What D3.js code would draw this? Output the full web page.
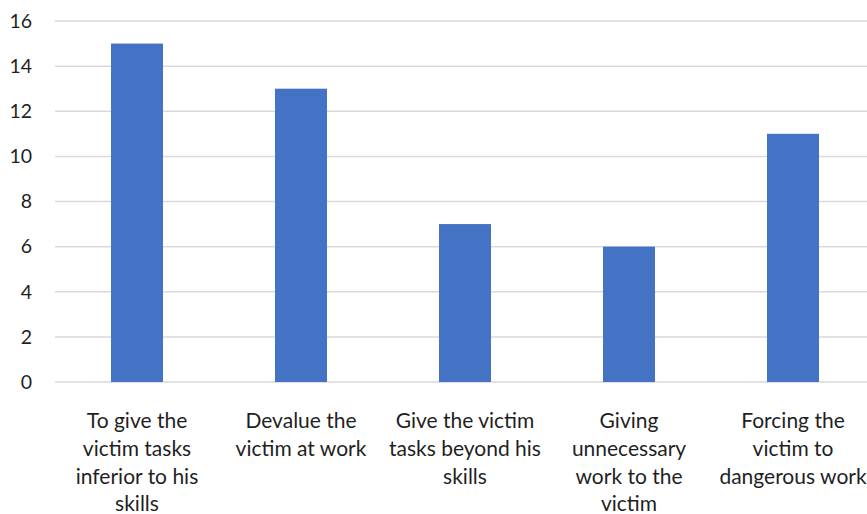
<!DOCTYPE html>
<html>
<head>
<meta charset="utf-8">
<script src="https://cdn.jsdelivr.net/npm/d3@7"></script>
<style>
  html, body { margin: 0; padding: 0; background: #fff; }
  svg { display: block; }
  text { font-family: Lato, "Open Sans", sans-serif; fill: #1f1f1f; }
</style>
</head>
<body>
<div id="chart"></div>
<script>
// Category labels (line breaks mark the wrapped lines under each bar)
const categories = [
  "To give the\nvictim tasks\ninferior to his\nskills",
  "Devalue the\nvictim at work",
  "Give the victim\ntasks beyond his\nskills",
  "Giving\nunnecessary\nwork to the\nvictim",
  "Forcing the\nvictim to\ndangerous work"
];
const values = [15, 13, 7, 6, 11];
const yTicks = [0, 2, 4, 6, 8, 10, 12, 14, 16];

const width = 867, height = 514;
const margin = { top: 21, right: -8, bottom: 132, left: 55 };

const svg = d3.select("#chart").append("svg")
  .attr("width", width)
  .attr("height", height);

const x = d3.scaleBand()
  .domain(categories)
  .range([margin.left, width - margin.right])
  .paddingInner(0.683)
  .paddingOuter(0.3415);

const y = d3.scaleLinear()
  .domain([0, 16])
  .range([height - margin.bottom, margin.top]);

// Horizontal gridlines
svg.append("g")
  .selectAll("line")
  .data(yTicks)
  .join("line")
  .attr("x1", margin.left)
  .attr("x2", width)
  .attr("y1", d => y(d))
  .attr("y2", d => y(d))
  .attr("stroke", "#d9d9d9")
  .attr("stroke-width", 1.5);

// Y axis tick labels
svg.append("g")
  .selectAll("text")
  .data(yTicks)
  .join("text")
  .attr("x", 32)
  .attr("y", d => y(d))
  .attr("dy", "0.35em")
  .attr("text-anchor", "end")
  .style("font-size", "19.5px")
  .text(d => d);

// Bars
svg.append("g")
  .selectAll("rect")
  .data(values)
  .join("rect")
  .attr("x", (d, i) => x(categories[i]))
  .attr("width", x.bandwidth())
  .attr("y", d => y(d))
  .attr("height", d => y(0) - y(d))
  .attr("fill", "#4472c4");

// Category labels
const labels = svg.append("g")
  .selectAll("text")
  .data(categories)
  .join("text")
  .attr("text-anchor", "middle")
  .attr("transform", d => `translate(${x(d) + x.bandwidth() / 2},${428})`)
  .style("font-size", "21px");

labels.selectAll("tspan")
  .data(d => d.split("\n"))
  .join("tspan")
  .attr("x", 0)
  .attr("y", (d, i) => i * 27.8)
  .text(d => d);
</script>
</body>
</html>
